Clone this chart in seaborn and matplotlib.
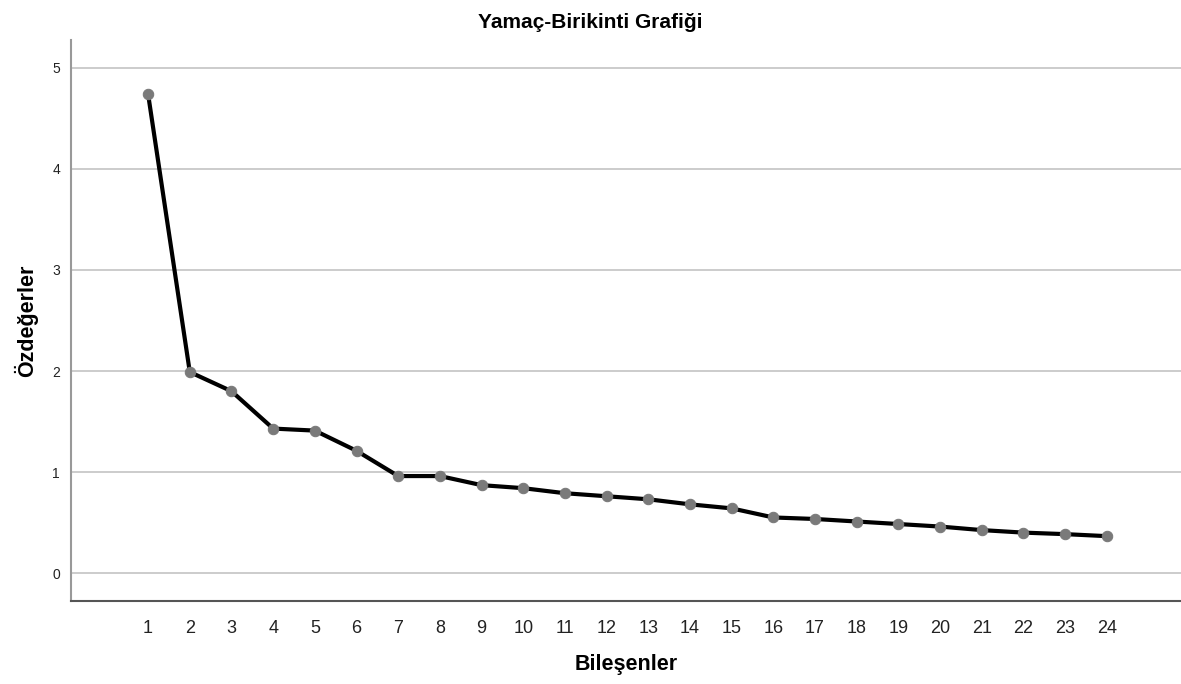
import pandas as pd
import matplotlib
matplotlib.use("Agg")
import matplotlib.pyplot as plt
import seaborn as sns

# Scree plot data
components = list(range(1, 25))
eigenvalues = [4.74, 1.99, 1.80, 1.43, 1.41, 1.21, 0.96, 0.96, 0.87, 0.84,
               0.79, 0.76, 0.73, 0.68, 0.64, 0.55, 0.535, 0.51, 0.485, 0.46,
               0.425, 0.40, 0.385, 0.365]
y_ticks = [0, 1, 2, 3, 4, 5]

title_text = "Yamaç-Birikinti Grafiği"
x_label = "Bileşenler"
y_label = "Özdeğerler"

sns.set_style("white")
plt.rcParams['font.family'] = ['Liberation Sans', 'DejaVu Sans']

df = pd.DataFrame({"comp": components, "eig": eigenvalues})

fig = plt.figure(figsize=(11.81, 6.84), dpi=100)
ax = fig.add_axes([71 / 1181, 83 / 684, 1110 / 1181, 561 / 684])

# Horizontal grid lines
for v in y_ticks:
    ax.axhline(v, color="#cccccc", lw=1.4, zorder=0)

sns.lineplot(data=df, x="comp", y="eig", ax=ax, color="black", lw=3,
             marker="o", markersize=7.5, markerfacecolor="#7a7a7a",
             markeredgecolor="#7a7a7a", zorder=3)

ax.set_xlim(-0.85, 25.78)
ax.set_ylim(-0.277, 5.277)
ax.set_xticks(components)
ax.set_xticklabels([str(c) for c in components])
ax.set_yticks(y_ticks)
ax.tick_params(axis="x", length=0, labelsize=13, pad=14, colors="#222222")
ax.tick_params(axis="y", length=0, labelsize=10, pad=8, colors="#222222")

for s in ["top", "right"]:
    ax.spines[s].set_visible(False)
ax.spines["left"].set_color("#999999")
ax.spines["left"].set_linewidth(1.5)
ax.spines["bottom"].set_color("#555555")
ax.spines["bottom"].set_linewidth(1.5)

ax.set_xlabel(x_label, fontsize=15.5, fontweight="bold", labelpad=12,
              color="black")
ax.set_ylabel(y_label, fontsize=15.5, fontweight="bold", labelpad=10,
              color="black")
fig.text(590 / 1181, 1 - 22 / 684, title_text, ha="center", va="center",
         fontsize=15, fontweight="bold", color="black")

fig.savefig("out.png", dpi=100)
